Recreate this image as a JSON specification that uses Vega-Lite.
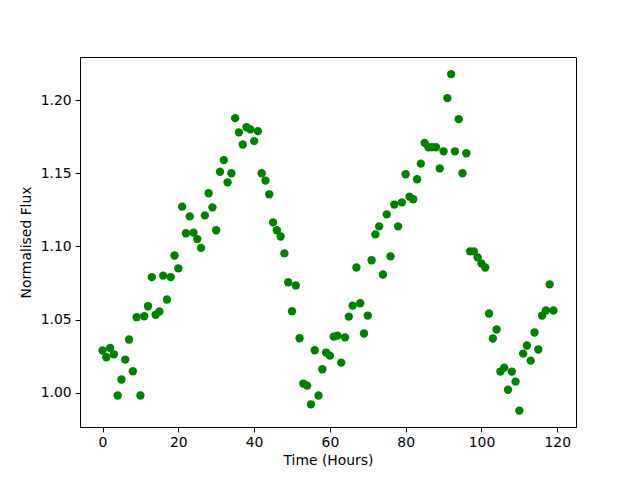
{
  "$schema": "https://vega.github.io/schema/vega-lite/v6.json",
  "width": 496,
  "height": 370,
  "autosize": {"type": "none"},
  "padding": {"left": 80, "top": 57, "right": 64, "bottom": 53},
  "background": "white",
  "config": {
    "view": {"stroke": "black", "strokeWidth": 1},
    "font": "DejaVu Sans",
    "axis": {
      "grid": false,
      "domainColor": "black",
      "tickColor": "black",
      "tickSize": 4.9,
      "labelPadding": 4,
      "labelFont": "DejaVu Sans",
      "labelFontSize": 13.9,
      "labelColor": "black",
      "titleFont": "DejaVu Sans",
      "titleFontSize": 13.9,
      "titleFontWeight": "normal",
      "titleColor": "black"
    }
  },
  "data": {"values": [
    {"t":0,"f":1.0288},{"t":1,"f":1.0242},{"t":2,"f":1.0305},{"t":3,"f":1.0262},{"t":4,"f":0.998},
    {"t":5,"f":1.009},{"t":6,"f":1.0226},{"t":7,"f":1.0363},{"t":8,"f":1.0146},{"t":9,"f":1.0516},
    {"t":10,"f":0.998},{"t":11,"f":1.0522},{"t":12,"f":1.0591},{"t":13,"f":1.079},{"t":14,"f":1.0532},
    {"t":15,"f":1.0555},{"t":16,"f":1.080},{"t":17,"f":1.0637},{"t":18,"f":1.079},{"t":19,"f":1.0938},
    {"t":20,"f":1.085},{"t":21,"f":1.1272},{"t":22,"f":1.109},{"t":23,"f":1.1205},{"t":24,"f":1.1094},
    {"t":25,"f":1.105},{"t":26,"f":1.099},{"t":27,"f":1.1212},{"t":28,"f":1.1363},{"t":29,"f":1.1267},
    {"t":30,"f":1.111},{"t":31,"f":1.151},{"t":32,"f":1.159},{"t":33,"f":1.1438},{"t":34,"f":1.150},
    {"t":35,"f":1.1877},{"t":36,"f":1.178},{"t":37,"f":1.1697},{"t":38,"f":1.1815},{"t":39,"f":1.180},
    {"t":40,"f":1.172},{"t":41,"f":1.1788},{"t":42,"f":1.150},{"t":43,"f":1.145},{"t":44,"f":1.1356},
    {"t":45,"f":1.1164},{"t":46,"f":1.111},{"t":47,"f":1.1068},{"t":48,"f":1.0952},{"t":49,"f":1.0755},
    {"t":50,"f":1.0557},{"t":51,"f":1.0733},{"t":52,"f":1.0372},{"t":53,"f":1.0062},{"t":54,"f":1.0048},
    {"t":55,"f":0.992},{"t":56,"f":1.029},{"t":57,"f":0.998},{"t":58,"f":1.016},{"t":59,"f":1.0274},
    {"t":60,"f":1.0253},{"t":61,"f":1.0383},{"t":62,"f":1.039},{"t":63,"f":1.0205},{"t":64,"f":1.0378},
    {"t":65,"f":1.052},{"t":66,"f":1.0595},{"t":67,"f":1.0856},{"t":68,"f":1.0611},{"t":69,"f":1.0404},
    {"t":70,"f":1.0527},{"t":71,"f":1.0905},{"t":72,"f":1.1082},{"t":73,"f":1.1137},{"t":74,"f":1.0808},
    {"t":75,"f":1.1219},{"t":76,"f":1.0932},{"t":77,"f":1.1286},{"t":78,"f":1.1137},{"t":79,"f":1.1301},
    {"t":80,"f":1.1493},{"t":81,"f":1.134},{"t":82,"f":1.1322},{"t":83,"f":1.1459},{"t":84,"f":1.1566},
    {"t":85,"f":1.1708},{"t":86,"f":1.1678},{"t":87,"f":1.1678},{"t":88,"f":1.1678},{"t":89,"f":1.1533},
    {"t":90,"f":1.165},{"t":91,"f":1.2014},{"t":92,"f":1.2178},{"t":93,"f":1.165},{"t":94,"f":1.187},
    {"t":95,"f":1.150},{"t":96,"f":1.1637},{"t":97,"f":1.0966},{"t":98,"f":1.0966},{"t":99,"f":1.0925},
    {"t":100,"f":1.0884},{"t":101,"f":1.0856},{"t":102,"f":1.0541},{"t":103,"f":1.037},{"t":104,"f":1.0432},
    {"t":105,"f":1.0144},{"t":106,"f":1.0171},{"t":107,"f":1.002},{"t":108,"f":1.0144},{"t":109,"f":1.0075},
    {"t":110,"f":0.9877},{"t":111,"f":1.0267},{"t":112,"f":1.0322},{"t":113,"f":1.0219},{"t":114,"f":1.0411},
    {"t":115,"f":1.0295},{"t":116,"f":1.0527},{"t":117,"f":1.0562},{"t":118,"f":1.074},{"t":119,"f":1.0562}
  ]},
  "mark": {"type": "point", "filled": true, "shape": "circle", "color": "#008000", "opacity": 1, "size": 70},
  "encoding": {
    "x": {
      "field": "t", "type": "quantitative", "title": "Time (Hours)",
      "scale": {"domain": [-5.95, 124.95], "nice": false, "zero": false},
      "axis": {"values": [0, 20, 40, 60, 80, 100, 120], "titlePadding": 4}
    },
    "y": {
      "field": "f", "type": "quantitative", "title": "Normalised Flux",
      "scale": {"domain": [0.9765, 1.2295], "nice": false, "zero": false},
      "axis": {"values": [1.0, 1.05, 1.1, 1.15, 1.2], "format": ".2f", "titlePadding": 7}
    }
  }
}
